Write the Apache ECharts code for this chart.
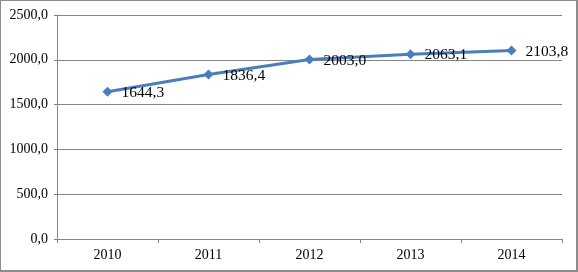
<!DOCTYPE html>
<html>
<head>
<meta charset="utf-8">
<script src="https://cdn.jsdelivr.net/npm/echarts@6/dist/echarts.min.js"></script>
<style>
  html, body { margin: 0; padding: 0; background: #fff; }
  #chart { width: 578px; height: 272px; box-sizing: border-box; border: 1px solid #8c8c8c; border-right-width: 2px; border-bottom-width: 2px; }
</style>
</head>
<body>
<div id="chart"></div>
<script>
// данные графика
const years = ['2010', '2011', '2012', '2013', '2014']
const values = [1644.3, 1836.4, 2003.0, 2063.1, 2103.8]

const fmt = v => v.toFixed(1).replace('.', ',')
const font = 'Liberation Serif'

const chart = echarts.init(document.getElementById('chart'))
chart.setOption({
  animation: false,
  grid: { left: 56, right: 14, top: 14, bottom: 31 },
  xAxis: {
    type: 'category',
    data: years,
    boundaryGap: true,
    axisLine: { lineStyle: { color: '#868686', width: 1 } },
    axisTick: { show: true, length: 4, lineStyle: { color: '#868686' } },
    axisLabel: { color: '#000', fontFamily: font, fontSize: 14, margin: 9 },
    splitLine: { show: false }
  },
  yAxis: {
    type: 'value',
    min: 0,
    max: 2500,
    interval: 500,
    axisLine: { show: true, lineStyle: { color: '#868686' } },
    axisTick: { show: true, length: 3, lineStyle: { color: '#868686' } },
    axisLabel: { color: '#000', fontFamily: font, fontSize: 14, margin: 9, formatter: v => fmt(v) },
    splitLine: { lineStyle: { color: '#868686', width: 1 } }
  },
  series: [{
    type: 'line',
    data: values,
    symbol: 'diamond',
    symbolSize: 10,
    lineStyle: { color: '#4a7ebb', width: 3 },
    itemStyle: { color: '#4a7ebb' },
    label: {
      show: true,
      position: 'right',
      distance: 9,
      offset: [0, 1],
      color: '#000',
      fontFamily: font,
      fontSize: 15.5,
      formatter: p => fmt(p.value)
    }
  }]
})
</script>
</body>
</html>
